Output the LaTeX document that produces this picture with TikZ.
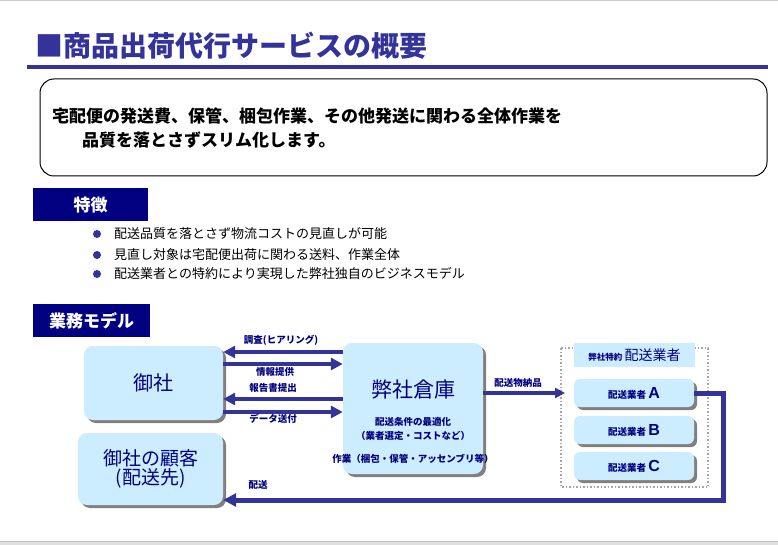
\documentclass[tikz,border=0pt]{standalone}
\usepackage{fontspec}
\setmainfont{Noto Sans CJK JP}
\newfontfamily\lat{Liberation Sans}
\usetikzlibrary{arrows.meta,shadows}
\definecolor{navy}{HTML}{000080}
\definecolor{arrowc}{HTML}{333399}
\definecolor{boxfill}{HTML}{CCECFF}
\definecolor{shade}{HTML}{808080}
\newcommand{\fs}[1]{\fontsize{#1}{#1}\selectfont}
\begin{document}
\begin{tikzpicture}[x=1pt,y=-1pt,
  box/.style={fill=boxfill, rounded corners=9pt, text=navy, align=center, inner sep=0pt,
    drop shadow={shadow xshift=3pt, shadow yshift=-3pt, fill=shade, opacity=1}},
  tab/.style={fill=navy, text=white, inner sep=0pt, font=\fs{17}\bfseries},
  arr/.style={draw=arrowc, line width=4.5pt, -{Triangle[length=12pt,width=12pt]}},
  lbl/.style={text=navy, inner sep=0pt, font=\fs{9.5}\bfseries},
  bul/.style={anchor=west, inner sep=0pt, font=\fs{13}},
]
\useasboundingbox (0,0) rectangle (778,545);
\fill[white] (0,0) rectangle (778,545);
% frame lines
\fill[gray!40] (0,0) rectangle (778,1.5);
\fill[gray!25] (0,541) rectangle (778,545);
\fill[gray!50] (0,541) rectangle (778,542);
% title
\node[anchor=west, text=arrowc, inner sep=0pt, font=\fs{28}\bfseries] (title) at (35,46) {■商品出荷代行サービスの概要};
\fill[arrowc] (27,65) rectangle (768,69);
% summary box
\node[draw=black, line width=1pt, rounded corners=14pt, minimum width=727pt, minimum height=97pt, inner sep=0pt] (summary) at (403.5,127.5) {};
\node[anchor=west, inner sep=0pt, font=\fs{17}\bfseries] (s1) at (52,116) {宅配便の発送費、保管、梱包作業、その他発送に関わる全体作業を};
\node[anchor=west, inner sep=0pt, font=\fs{17}\bfseries] (s2) at (82,140) {品質を落とさずスリム化します。};
% features
\node[tab, minimum width=115pt, minimum height=33pt] (tab1) at (90.5,205) {特徴};
\foreach \y/\t [count=\i] in {234/配送品質を落とさず物流コストの見直しが可能, 255/見直し対象は宅配便出荷に関わる送料、作業全体, 274/配送業者との特約により実現した弊社独自のビジネスモデル}{
  \fill[arrowc] (97,\y) circle (4pt);
  \node[bul] (b\i) at (114,\y) {\t};
}
\node[tab, minimum width=117pt, minimum height=33pt] (tab2) at (91.5,320.5) {業務モデル};
% diagram
\node[box, minimum width=139pt, minimum height=74pt, font=\fs{20}] (onsha) at (153.5,383) {御社};
\node[box, minimum width=145pt, minimum height=72pt, font=\fs{19}] (kokyaku) at (150.5,469) {御社の顧客\\(配送先)};
\node[box, minimum width=140pt, minimum height=131pt] (souko) at (413,408.5) {};
\node[text=navy, inner sep=0pt, font=\fs{21}] (soukot) at (413,390) {弊社倉庫};
\node[lbl] (souko1) at (413,422) {配送条件の最適化};
\node[lbl] (souko2) at (413,436) {（業者選定・コストなど）};
\node[lbl] (souko3) at (413,459) {作業（梱包・保管・アッセンブリ等）};
% arrows between onsha and souko
\draw[arr] (souko.west |- 0,352) -- (onsha.east |- 0,352);
\draw[arr] (onsha.east |- 0,364) -- (souko.west |- 0,364);
\draw[arr] (souko.west |- 0,399) -- (onsha.east |- 0,399);
\draw[arr] (onsha.east |- 0,412) -- (souko.west |- 0,412);
\node[lbl] (l1) at (281,340) {調査(ヒアリング)};
\node[lbl] (l2) at (275,372) {情報提供};
\node[lbl] (l3) at (273,388) {報告書提出};
\node[lbl] (l4) at (273,419) {データ送付};
% carriers
\draw[gray!70, line width=1.5pt, dotted] (561,348) rectangle (708,487);
\node[fill=boxfill, minimum width=121pt, minimum height=24pt, inner sep=0pt, text=navy] (head) at (634.5,355) {{\fs{8.5}\bfseries 弊社特約} {\fs{14}配送業者}};
\node[box, rounded corners=6pt, minimum width=120pt, minimum height=28pt] (ca) at (634,393) {{\fs{9.5}\bfseries 配送業者} {\lat\fs{16}\bfseries A}};
\node[box, rounded corners=6pt, minimum width=120pt, minimum height=28pt] (cb) at (634,430) {{\fs{9.5}\bfseries 配送業者} {\lat\fs{16}\bfseries B}};
\node[box, rounded corners=6pt, minimum width=120pt, minimum height=28pt] (cc) at (634,466) {{\fs{9.5}\bfseries 配送業者} {\lat\fs{16}\bfseries C}};
\coordinate (dotin) at (565,393);
\draw[draw=arrowc, line width=4pt, -{Triangle[length=10pt,width=10pt]}] (souko.east |- 0,393) -- (dotin);
\node[lbl] (l5) at (518,383) {配送物納品};
% delivery return
\draw[draw=arrowc, line width=5pt, -{Triangle[length=13pt,width=13pt]}] (ca.east) -- (723,393) -- (723,500) -- (kokyaku.east |- 0,500);
\node[lbl] (l6) at (258,485) {配送};
\end{tikzpicture}
\end{document}
